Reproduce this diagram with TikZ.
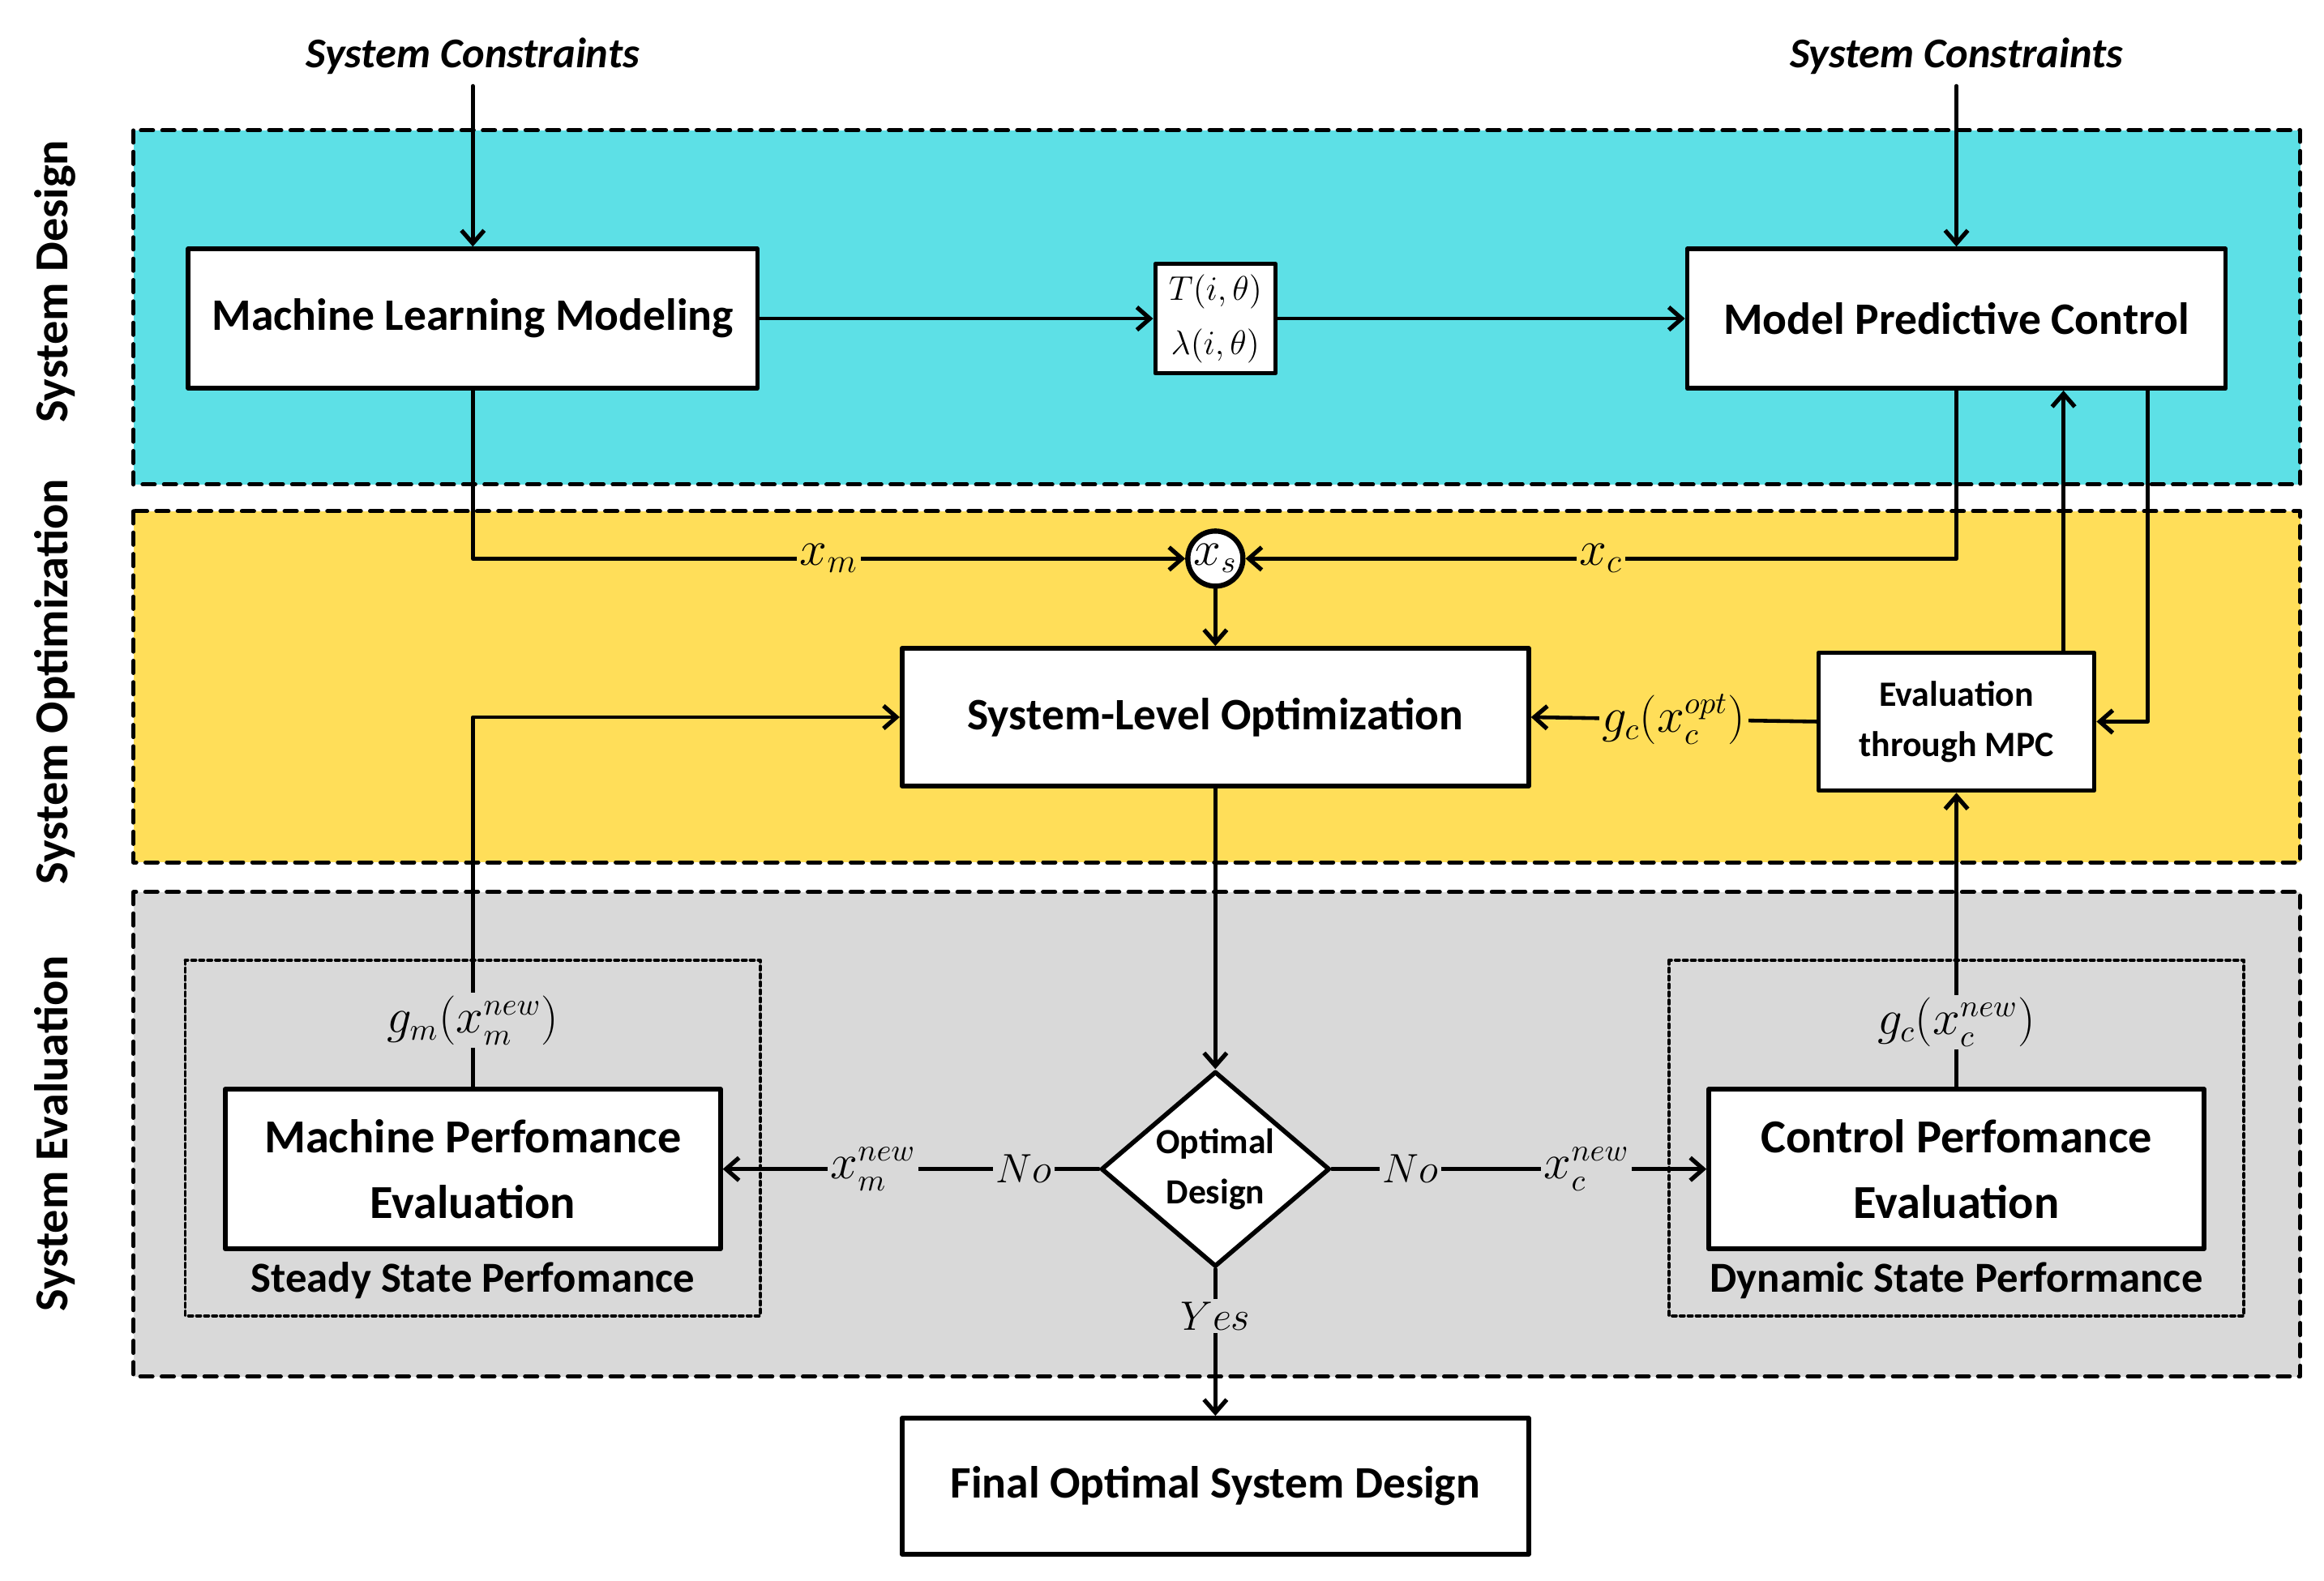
\documentclass[tikz,border=0pt]{standalone}
\usepackage{amsmath}
\usepackage{fontspec}
\setmainfont{Carlito}
\usepackage{tikz}
\usetikzlibrary{arrows.meta, calc, positioning, shapes.geometric}
\definecolor{designcyan}{RGB}{93, 224, 230}
\definecolor{optyellow}{RGB}{255, 222, 89}
\definecolor{evalgrey}{RGB}{217, 217, 217}

\begin{document}
\begin{tikzpicture}[x=0.018284cm, y=-0.018284cm, line cap=round, line join=round,
	>={Straight Barb[length=1.6mm,width=2.8mm,line width=1.5pt]}, line width=1.3pt,
	block/.style={draw, fill=white, line width=1.6pt, align=center, inner sep=2pt,
		font=\fontsize{15.8}{19}\selectfont\bfseries},
	decision/.style={draw, diamond, fill=white, line width=1.6pt, align=center, inner sep=0pt,
		aspect=1.17, minimum width=2.82cm, minimum height=2.41cm,
		font=\fontsize{12.4}{17.6}\selectfont\bfseries},
	group/.style={draw, line width=1.4pt, dash pattern=on 4.3pt off 3.2pt},
	innerbox/.style={draw, line width=1.1pt, dash pattern=on 1.4pt off 1.4pt},
	stage/.style={rotate=90, font=\fontsize{16.6}{19}\selectfont\bfseries},
	lbl/.style={inner sep=1pt, font=\fontsize{16}{19}\selectfont}]
	% picture frame
	\useasboundingbox (0,0) rectangle (1568,1067);

	% stages
	\draw[group, fill=designcyan] (90,88) rectangle (1552,327);
	\draw[group, fill=optyellow] (90,345) rectangle (1552,582);
	\draw[group, fill=evalgrey] (90,602) rectangle (1552,929);
	\draw[innerbox] (125,648) rectangle (513,888);
	\draw[innerbox] (1126,648) rectangle (1514,888);
	\node[stage] (design) at (37,190) {System Design};
	\node[stage] (optim) at (37,460) {System Optimization};
	\node[stage] (evaluate) at (37,765) {System Evaluation};

	% inputs
	\node[font=\fontsize{14.9}{18}\selectfont\bfseries\itshape] (scl) at (319,38) {System Constraints};
	\node[font=\fontsize{14.9}{18}\selectfont\bfseries\itshape] (scr) at (1320,38) {System Constraints};

	% blocks
	\node[block, minimum width=7.02cm, minimum height=1.72cm] (mlm) at (319,215) {Machine Learning Modeling};
	\node[block, minimum width=1.48cm, minimum height=1.35cm, inner sep=1pt,
		font=\fontsize{13}{19}\selectfont] (tl) at (820,215) {$T(i,\theta)$\\$\lambda(i,\theta)$};
	\node[block, minimum width=6.64cm, minimum height=1.72cm] (mpc) at (1320,215) {Model Predictive Control};
	\node[draw, circle, fill=white, line width=1.8pt, inner sep=0pt, minimum size=0.68cm,
		font=\fontsize{16}{18}\selectfont] (xs) at (820,377) {$x_s$};
	\node[block, minimum width=7.73cm, minimum height=1.70cm] (slo) at (820,484) {System-Level Optimization};
	\node[block, minimum width=3.40cm, minimum height=1.70cm,
		font=\fontsize{12.5}{17.6}\selectfont\bfseries] (eval) at (1320,487) {Evaluation\\through MPC};
	\node[block, minimum width=6.11cm, minimum height=1.97cm,
		font=\fontsize{16.6}{22.9}\selectfont\bfseries] (mpe) at (319,789) {Machine Perfomance\\Evaluation};
	\node[block, minimum width=6.11cm, minimum height=1.97cm,
		font=\fontsize{16.6}{22.9}\selectfont\bfseries] (cpe) at (1320,789) {Control Perfomance\\Evaluation};
	\node[font=\fontsize{15}{18}\selectfont\bfseries] (ssp) at (319,864) {Steady State Perfomance};
	\node[font=\fontsize{15}{18}\selectfont\bfseries] (dsp) at (1320,864) {Dynamic State Performance};
	\node[decision] (opt) at (820,789) {Optimal\\Design};
	\node[block, minimum width=7.73cm, minimum height=1.68cm] (fin) at (820,1003) {Final Optimal System Design};

	% connectors
	\draw[->] (scl) -- (mlm);
	\draw[->] (scr) -- (mpc);
	\draw[->] (mlm) -- (tl);
	\draw[->] (tl) -- (mpc);
	\draw[->] (mlm.south) |- (xs.west) node[lbl, pos=0.75, fill=optyellow, font=\fontsize{17}{20}\selectfont] {$x_m$};
	\draw[->] (mpc.south) |- (xs.east) node[lbl, pos=0.75, fill=optyellow, font=\fontsize{17}{20}\selectfont] {$x_c$};
	\draw[->] (xs) -- (slo);
	\draw[->] (eval.west) -- (slo.east) node[lbl, midway, fill=optyellow] {$g_c(x_c^{opt})$};
	\draw[->] ([xshift=1.32cm]eval.north) -- ([xshift=1.32cm]eval.north |- mpc.south);
	\draw[->] ([xshift=-0.99cm]mpc.south east) |- (eval.east);
	\draw[->] (mpe.north) |- (slo.west) node[lbl, pos=0.09, fill=evalgrey] {$g_m(x_m^{new})$};
	\draw[->] (cpe.north) -- (eval.south) node[lbl, pos=0.22, fill=evalgrey] {$g_c(x_c^{new})$};
	\draw[->] (slo) -- (opt);
	\draw[->] (opt.west) -- (mpe.east)
		node[lbl, pos=0.2, fill=evalgrey, font=\fontsize{15}{18}\selectfont] {$No$}
		node[lbl, pos=0.6, fill=evalgrey] {$x_m^{new}$};
	\draw[->] (opt.east) -- (cpe.west)
		node[lbl, pos=0.21, fill=evalgrey, font=\fontsize{15}{18}\selectfont] {$No$}
		node[lbl, pos=0.68, fill=evalgrey] {$x_c^{new}$};
	\draw[->] (opt.south) -- (fin.north) node[lbl, pos=0.32, fill=evalgrey, font=\fontsize{14}{17}\selectfont] {$Yes$};
\end{tikzpicture}
\end{document}
